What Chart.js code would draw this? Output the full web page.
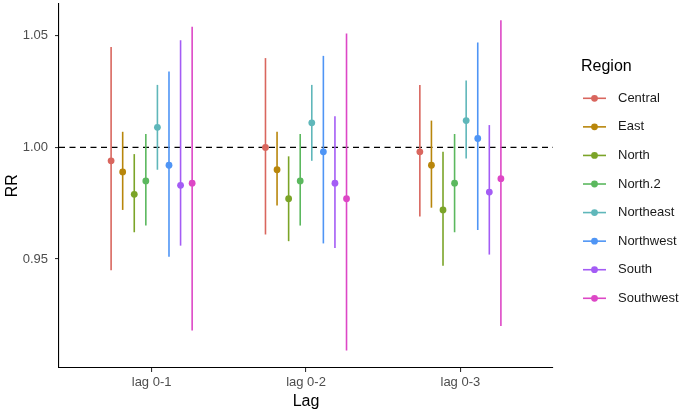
<!DOCTYPE html>
<html>
<head>
<meta charset="utf-8">
<script src="https://cdn.jsdelivr.net/npm/chart.js@4"></script>
<style>
  html, body { margin: 0; padding: 0; background: #fff; }
  #wrap { width: 688px; height: 413px; }
</style>
</head>
<body>
<div id="wrap"><canvas id="chart"></canvas></div>
<script>
// Categories
const lags = ['lag 0-1', 'lag 0-2', 'lag 0-3'];
const regions = ['Central', 'East', 'North', 'North.2', 'Northeast', 'Northwest', 'South', 'Southwest'];
const regionColors = ['#D9665E', '#B8860B', '#7BA428', '#5BB85E', '#5FB7BA', '#4F95F5', '#A45CF5', '#DD47C6'];

// RR estimates, one row per region, one value per lag
const rrEst = [
    [0.994, 1.000, 0.998],
    [0.989, 0.990, 0.992],
    [0.979, 0.977, 0.972],
    [0.985, 0.985, 0.984],
    [1.009, 1.011, 1.012],
    [0.992, 0.998, 1.004],
    [0.983, 0.984, 0.980],
    [0.984, 0.977, 0.986]
];
const rrLow = [
    [0.945, 0.961, 0.969],
    [0.972, 0.974, 0.973],
    [0.962, 0.958, 0.947],
    [0.965, 0.965, 0.962],
    [0.990, 0.994, 0.995],
    [0.951, 0.957, 0.963],
    [0.956, 0.955, 0.952],
    [0.918, 0.909, 0.920]
];
const rrHigh = [
    [1.045, 1.040, 1.028],
    [1.007, 1.007, 1.012],
    [0.997, 0.996, 0.998],
    [1.006, 1.006, 1.006],
    [1.028, 1.028, 1.030],
    [1.034, 1.041, 1.047],
    [1.048, 1.014, 1.010],
    [1.054, 1.051, 1.057]
];
const yTicks = [0.95, 1.00, 1.05];
const refValue = 1.0;

// dodge width 0.6 split over the 8 regions
const dodge = 0.6 / regions.length;

Chart.defaults.font.family = '"Liberation Sans", Arial, sans-serif';

const datasets = regions.map((name, r) => ({
    label: name,
    data: lags.map((_, i) => ({
        x: i + 1 + (r - (regions.length - 1) / 2) * dodge,
        y: rrEst[r][i],
        lo: rrLow[r][i],
        hi: rrHigh[r][i]
    })),
    backgroundColor: regionColors[r],
    borderColor: regionColors[r],
    pointRadius: 3.4,
    pointHoverRadius: 3.4,
    pointBorderWidth: 0,
    showLine: false
}));

// reference line + error bars, drawn under the points
const rangePlugin = {
    id: 'ranges',
    beforeDatasetsDraw(chart) {
        const { ctx, chartArea, scales: { x, y } } = chart;
        ctx.save();
        const yRef = y.getPixelForValue(refValue);
        ctx.strokeStyle = '#000';
        ctx.lineWidth = 1.4;
        ctx.setLineDash([6, 4.5]);
        ctx.beginPath();
        ctx.moveTo(chartArea.left, yRef);
        ctx.lineTo(chartArea.right, yRef);
        ctx.stroke();
        ctx.setLineDash([]);

        chart.data.datasets.forEach(ds => {
            ctx.strokeStyle = ds.borderColor;
            ctx.lineWidth = 1.6;
            ds.data.forEach(p => {
                const px = x.getPixelForValue(p.x);
                ctx.beginPath();
                ctx.moveTo(px, y.getPixelForValue(p.lo));
                ctx.lineTo(px, y.getPixelForValue(p.hi));
                ctx.stroke();
            });
        });
        ctx.restore();
    }
};

// ggplot style legend on the right
const legendPlugin = {
    id: 'sideLegend',
    afterDraw(chart) {
        const { ctx } = chart;
        ctx.save();
        ctx.textBaseline = 'middle';
        ctx.textAlign = 'left';
        ctx.fillStyle = '#000';
        ctx.font = '16px "Liberation Sans", Arial, sans-serif';
        ctx.fillText('Region', 581, 67);
        ctx.font = '13px "Liberation Sans", Arial, sans-serif';
        chart.data.datasets.forEach((ds, i) => {
            const yy = 98.3 + i * 28.57;
            ctx.strokeStyle = ds.borderColor;
            ctx.lineWidth = 1.6;
            ctx.beginPath();
            ctx.moveTo(583, yy);
            ctx.lineTo(606, yy);
            ctx.stroke();
            ctx.fillStyle = ds.backgroundColor;
            ctx.beginPath();
            ctx.arc(594.5, yy, 3.4, 0, Math.PI * 2);
            ctx.fill();
            ctx.fillStyle = '#1a1a1a';
            ctx.fillText(ds.label, 618, yy);
        });
        ctx.restore();
    }
};

const noPad = s => { s.paddingTop = 0; s.paddingBottom = 0; s.paddingLeft = 0; s.paddingRight = 0; };

new Chart(document.getElementById('chart'), {
    type: 'scatter',
    data: { datasets },
    options: {
        responsive: true,
        maintainAspectRatio: false,
        animation: false,
        layout: { padding: { left: 0, right: 135, top: 1.5, bottom: 0 } },
        plugins: {
            legend: { display: false },
            tooltip: { enabled: false }
        },
        scales: {
            x: {
                type: 'linear',
                min: 0.4,
                max: 3.6,
                afterBuildTicks: s => { s.ticks = lags.map((_, i) => ({ value: i + 1 })); },
                afterFit: s => { noPad(s); s.height = 45; },
                grid: { display: true, drawOnChartArea: false, drawTicks: true, tickLength: 4, color: '#333', lineWidth: 1.1 },
                border: { display: true, color: '#000', width: 1.1 },
                ticks: {
                    color: '#4d4d4d',
                    font: { size: 13 },
                    padding: 3,
                    maxRotation: 0,
                    autoSkip: false,
                    callback: v => lags[Math.round(v) - 1]
                },
                title: { display: true, text: 'Lag', color: '#000', font: { size: 16 }, padding: { top: 1, bottom: 1.5 } }
            },
            y: {
                type: 'linear',
                min: 0.9012,
                max: 1.0645,
                afterBuildTicks: s => { s.ticks = yTicks.map(v => ({ value: v })); },
                afterFit: s => { noPad(s); s.width = 59; },
                grid: { display: true, drawOnChartArea: false, drawTicks: true, tickLength: 4, color: '#333', lineWidth: 1.1 },
                border: { display: true, color: '#000', width: 1.1 },
                ticks: {
                    color: '#4d4d4d',
                    font: { size: 13 },
                    padding: 7,
                    callback: v => v.toFixed(2)
                },
                title: { display: true, text: 'RR', color: '#000', font: { size: 16 }, padding: { top: 3, bottom: 0 } }
            }
        }
    },
    plugins: [rangePlugin, legendPlugin]
});
</script>
</body>
</html>
